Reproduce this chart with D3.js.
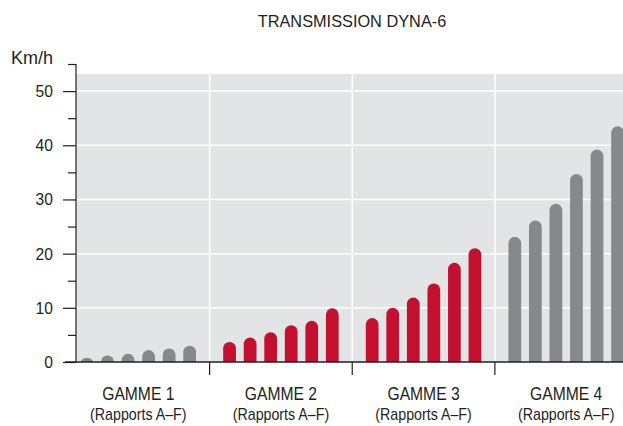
<!DOCTYPE html>
<html>
<head>
<meta charset="utf-8">
<script src="https://cdn.jsdelivr.net/npm/d3@7"></script>
<style>
  body { margin: 0; background: #fff; }
  text { font-family: "Liberation Sans", Arial, sans-serif; fill: #231f20; }
</style>
</head>
<body>
<div id="chart"></div>
<script>
var groups = ["GAMME 1", "GAMME 2", "GAMME 3", "GAMME 4"];
var subLabel = "(Rapports A\u2013F)";
var ratios = ["A", "B", "C", "D", "E", "F"];
var gamme1 = [0.8, 1.2, 1.5, 2.2, 2.5, 3.0];
var gamme2 = [3.7, 4.5, 5.5, 6.8, 7.6, 9.9];
var gamme3 = [8.1, 10.0, 11.9, 14.5, 18.3, 21.0];
var gamme4 = [23.1, 26.1, 29.2, 34.7, 39.2, 43.5];
var groupColors = ["#87888c", "#c3102f", "#c3102f", "#87888c"];
var yTicks = [0, 10, 20, 30, 40, 50];

var series = [gamme1, gamme2, gamme3, gamme4];
var datum = [];
series.forEach(function(vals, gi){
	vals.forEach(function(v, i){
		datum.push({ group: groups[gi], ratio: ratios[i], value: v, color: groupColors[gi] });
	});
});

var chart = { width: 623, height: 426, left: 76, right: 623, top: 74, bottom: 362 };

var xGroup = d3.scaleBand()
	.domain(groups)
	.range([67, 637.5]);

var xBar = d3.scaleBand()
	.domain(ratios)
	.range([0, xGroup.bandwidth()])
	.paddingInner(0.38)
	.paddingOuter(0.66);

var yScale = d3.scaleLinear()
	.domain([0, 55])
	.range([chart.bottom, 64]);

var svg = d3.select("#chart")
	.append("svg")
	.attr("width", chart.width)
	.attr("height", chart.height);

// narrow-looking text: squeeze horizontally
function label(parent, x, y, size, sx, anchor, str){
	return parent.append("text")
		.attr("transform", "translate(" + x + "," + y + ") scale(" + sx + ",1)")
		.attr("text-anchor", anchor)
		.attr("font-size", size)
		.text(str);
}

// grey plot area
svg.append("rect")
	.attr("x", chart.left)
	.attr("y", chart.top)
	.attr("width", chart.right - chart.left)
	.attr("height", chart.bottom - chart.top)
	.attr("fill", "#e3e4e6");

// white grid
svg.selectAll(".hgrid")
	.data(yTicks.filter(function(d){ return d > 0; }))
	.enter()
	.append("line")
	.attr("class", "hgrid")
	.attr("x1", chart.left)
	.attr("x2", chart.right)
	.attr("y1", function(d){ return yScale(d); })
	.attr("y2", function(d){ return yScale(d); })
	.attr("stroke", "#fff")
	.attr("stroke-width", 1.5);

svg.selectAll(".vgrid")
	.data(groups.slice(1))
	.enter()
	.append("line")
	.attr("class", "vgrid")
	.attr("x1", function(d){ return xGroup(d); })
	.attr("x2", function(d){ return xGroup(d); })
	.attr("y1", chart.top)
	.attr("y2", chart.bottom)
	.attr("stroke", "#fff")
	.attr("stroke-width", 1.5);

// bars with rounded tops
svg.append("clipPath")
	.attr("id", "plot-clip")
	.append("rect")
	.attr("x", 0)
	.attr("y", 0)
	.attr("width", chart.width)
	.attr("height", chart.bottom);

var r = xBar.bandwidth() / 2;
svg.append("g")
	.attr("clip-path", "url(#plot-clip)")
	.selectAll("rect")
	.data(datum)
	.enter()
	.append("rect")
	.attr("x", function(d){ return xGroup(d.group) + xBar(d.ratio); })
	.attr("y", function(d){ return yScale(d.value); })
	.attr("width", xBar.bandwidth())
	.attr("height", function(d){ return chart.bottom - yScale(d.value) + r; })
	.attr("rx", r)
	.attr("ry", r)
	.attr("fill", function(d){ return d.color; });

// y axis
var yAxis = d3.axisLeft(yScale)
	.tickValues(d3.range(0, 56, 5))
	.tickSize(8)
	.tickFormat("");

var yG = svg.append("g")
	.attr("transform", "translate(" + chart.left + ",0)")
	.call(yAxis);
yG.select(".domain").remove();
yG.selectAll(".tick line")
	.attr("x2", function(d){ return d % 10 === 0 ? -13 : -8; })
	.attr("stroke", "#231f20")
	.attr("stroke-width", 1.2);

yTicks.forEach(function(t){
	label(svg, 53, yScale(t) + 6, 17, 0.92, "end", t);
});

svg.append("line")
	.attr("x1", chart.left)
	.attr("x2", chart.left)
	.attr("y1", yScale(55))
	.attr("y2", chart.bottom)
	.attr("stroke", "#231f20")
	.attr("stroke-width", 1.2);

// x axis
svg.append("line")
	.attr("x1", 65)
	.attr("x2", chart.right)
	.attr("y1", chart.bottom)
	.attr("y2", chart.bottom)
	.attr("stroke", "#231f20")
	.attr("stroke-width", 1.5);

svg.selectAll(".sep")
	.data(groups.slice(1))
	.enter()
	.append("line")
	.attr("class", "sep")
	.attr("x1", function(d){ return xGroup(d); })
	.attr("x2", function(d){ return xGroup(d); })
	.attr("y1", chart.bottom)
	.attr("y2", chart.bottom + 13)
	.attr("stroke", "#231f20")
	.attr("stroke-width", 1.2);

groups.forEach(function(g){
	var cx = xGroup(g) + xGroup.bandwidth() / 2;
	label(svg, cx, 400, 18, 0.87, "middle", g);
	label(svg, cx, 420, 16, 0.89, "middle", subLabel);
});

// titles
label(svg, 352, 27, 17, 0.96, "middle", "TRANSMISSION DYNA-6");
label(svg, 11, 64, 18, 1, "start", "Km/h");
</script>
</body>
</html>
